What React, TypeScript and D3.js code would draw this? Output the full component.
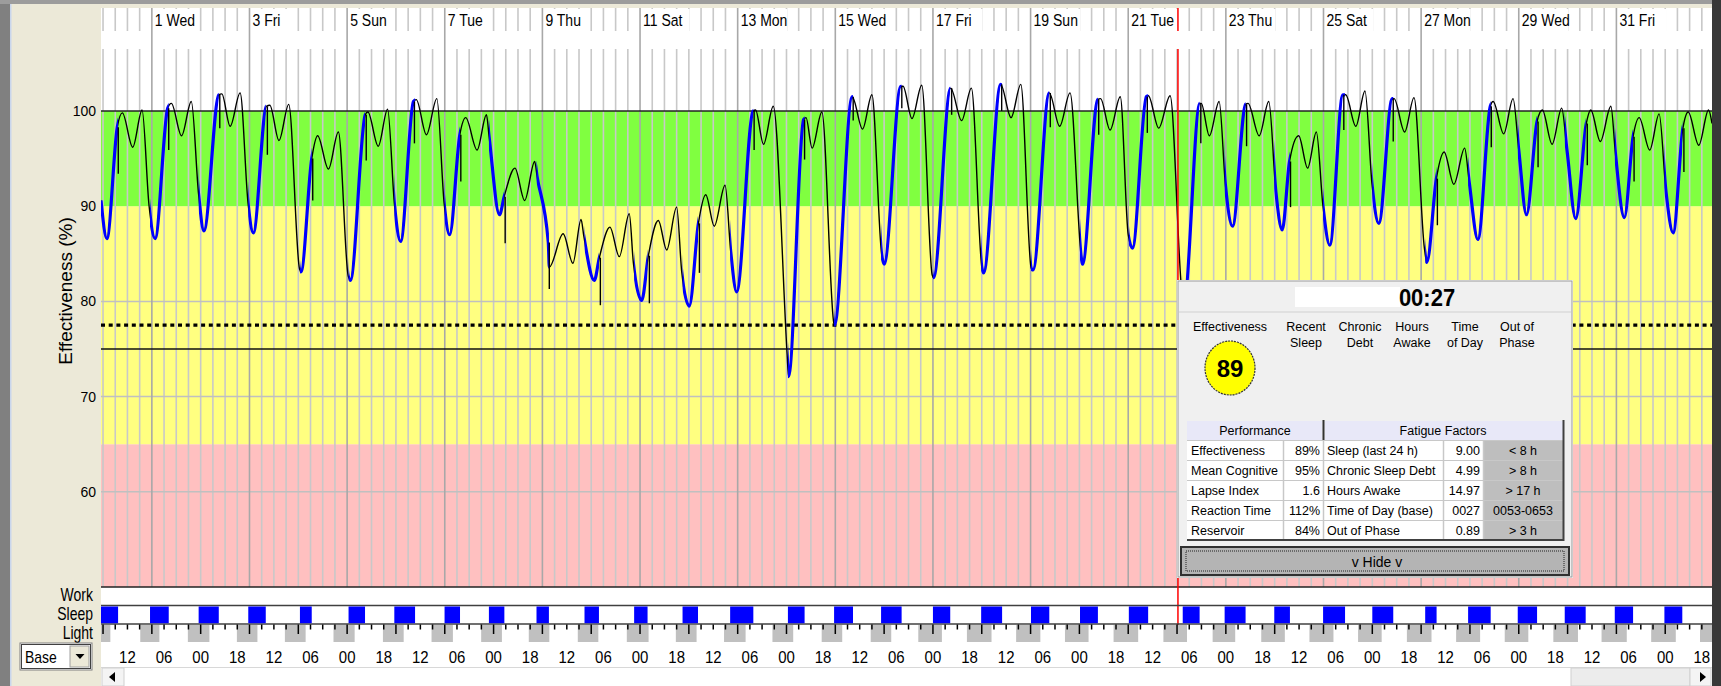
import React from "react";
import * as d3 from "d3";

// hours are counted from Tue 28 Feb 00:00
const dayLabels = ["1 Wed", "3 Fri", "5 Sun", "7 Tue", "9 Thu", "11 Sat", "13 Mon", "15 Wed",
  "17 Fri", "19 Sun", "21 Tue", "23 Thu", "25 Sat", "27 Mon", "29 Wed", "31 Fri"];
const effTicks = [100, 90, 80, 70, 60];
const zoneEdges = [50, 65, 90, 100];
const criterionDotted = 77.5;
const criterionSolid = 75;
const cursorHour = 528.45;

// effectiveness curve key points [hour, %]
const effectiveness: [number, number][] = [
  [-1, 90.6], [1.9, 86.6], [7.0, 98.3], [9.5, 99.8], [14.6, 96.2], [19.2, 100.1],
  [22.6, 90.1], [25.6, 86.6], [31.8, 100.3], [33.6, 100.8], [38.6, 97.4], [43.4, 101.0],
  [47.0, 91.2], [49.6, 87.4], [56.9, 101.7], [58.4, 101.8], [62.5, 98.4], [67.4, 101.9],
  [71.3, 90.3], [73.9, 87.2], [80.3, 100.5], [82.0, 100.6], [86.5, 96.9], [91.3, 100.7],
  [96.6, 83.4], [97.3, 83.1], [102.6, 95.0], [105.5, 97.4], [110.8, 93.9], [115.7, 97.8],
  [120.5, 82.7], [121.6, 82.2], [128.9, 99.6], [130.2, 99.9], [135.3, 96.3], [139.9, 100.2],
  [143.3, 90.1], [146.3, 86.3], [152.6, 101.0], [154.0, 101.2], [159.0, 97.5], [164.1, 101.3],
  [167.7, 90.3], [170.4, 87.0], [175.4, 97.5], [178.3, 99.3], [183.9, 95.9], [188.5, 99.6],
  [189.8, 97.3], [194.9, 89.1], [197.2, 91.0], [202.5, 94.0], [207.3, 90.6], [212.2, 94.7],
  [213.4, 93.1], [218.9, 86.2], [219.4, 83.6], [226.2, 87.1], [231.0, 84.0], [235.0, 88.6],
  [236.4, 86.8], [241.5, 82.2], [244.0, 84.6], [249.2, 87.8], [253.8, 84.7], [258.7, 89.2],
  [260.7, 84.1], [264.8, 80.1], [268.1, 84.8], [273.0, 88.5], [277.1, 85.4], [282.0, 89.9],
  [284.5, 83.1], [288.2, 79.5], [292.7, 88.2], [296.3, 91.2], [300.5, 87.9], [305.8, 92.2],
  [308.6, 85.2], [311.5, 81.0], [319.6, 100.0], [320.8, 100.1], [324.7, 96.5], [329.5, 100.5],
  [336.3, 74.5], [337.0, 72.1], [344.4, 99.1], [345.6, 99.3], [348.6, 96.1], [353.4, 99.9],
  [359.3, 77.7], [359.6, 77.5], [368.3, 101.5], [373.4, 98.1], [378.0, 101.7],
  [382.8, 84.9], [384.0, 83.9], [392.2, 102.6], [393.3, 102.6], [397.7, 99.2], [402.5, 102.7],
  [407.6, 82.8], [408.3, 82.5], [416.7, 102.4], [422.1, 99.0], [426.9, 102.4],
  [432.1, 83.5], [432.9, 83.0], [441.3, 102.8], [446.4, 99.3], [451.2, 102.8],
  [456.3, 83.5], [457.2, 83.3], [465.2, 101.9], [470.3, 98.4], [475.4, 101.9],
  [481.0, 84.5], [481.5, 83.9], [489.0, 101.2], [490.4, 101.3], [495.1, 98.0], [500.1, 101.5],
  [504.0, 87.0], [506.1, 85.6], [512.9, 101.5], [513.9, 101.6], [519.0, 98.2], [524.6, 101.6],
  [530.6, 80.6], [531.4, 80.0], [539.2, 100.8], [539.9, 100.8], [543.9, 97.4], [548.7, 101.0],
  [551.8, 92.2], [555.3, 87.9], [561.7, 100.7], [562.9, 100.8], [568.4, 97.4], [573.1, 101.0],
  [576.6, 91.5], [579.7, 87.5], [583.3, 94.7], [587.8, 97.4], [592.2, 94.0], [596.5, 97.8],
  [599.7, 90.1], [603.1, 85.9], [609.5, 101.7], [610.9, 101.7], [615.9, 98.4], [620.4, 102.1],
  [623.9, 92.2], [627.2, 88.2], [633.8, 101.3], [634.7, 101.3], [639.9, 97.8], [644.5, 101.4],
  [649.6, 85.6], [650.8, 84.1], [655.5, 92.9], [659.3, 95.7], [664.1, 92.3], [669.4, 96.1],
  [671.6, 92.6], [675.9, 86.5], [682.0, 100.5], [683.4, 101.0], [688.6, 97.6], [693.2, 101.3],
  [696.0, 95.9], [699.8, 89.1], [705.0, 98.9], [707.6, 100.1], [712.4, 96.5], [717.1, 100.3],
  [719.7, 95.9], [724.0, 88.7], [729.2, 98.7], [731.4, 100.1], [736.1, 96.8], [741.3, 100.5],
  [743.5, 95.6], [747.9, 88.8], [752.2, 97.3], [755.2, 99.3], [760.4, 95.9], [765.0, 99.7],
  [768.4, 91.5], [771.9, 87.2], [776.7, 98.2], [779.3, 99.9], [784.5, 96.4], [789.3, 100.1],
  [791, 98.7],
];

// sleep inertia dips at waking [hour, lowest %]
const wakeDips: [number, number][] = [
  [7.0, 93.4], [31.8, 95.9], [56.9, 98.2], [80.3, 95.4], [102.6, 90.6], [128.9, 94.8],
  [152.6, 96.6], [175.4, 92.6], [197.2, 86.1], [218.9, 81.3], [244.0, 79.6], [268.1, 79.8],
  [292.7, 83.0], [319.6, 95.9], [344.4, 94.9], [368.3, 99.0], [392.2, 100.3], [416.7, 99.6],
  [441.3, 100.0], [465.2, 98.3], [489.0, 97.5], [512.9, 97.7], [539.2, 96.6], [561.7, 96.3],
  [583.3, 89.9], [609.5, 98.0], [633.8, 96.8], [655.5, 88.0], [682.0, 96.2], [705.0, 94.1],
  [729.2, 94.3], [752.2, 92.6], [776.7, 93.6],
];

// sleep periods [start, end] in hours
const sleepBlocks: [number, number][] = [
  [-1, 7.4], [23.1, 32.3], [47.0, 56.9], [71.4, 80.0], [96.8, 102.6], [120.7, 128.8],
  [143.2, 153.4], [167.9, 175.5], [189.7, 197.3], [213.1, 219.2], [236.7, 243.8],
  [261.1, 267.7], [284.9, 292.5], [308.3, 319.7], [336.7, 344.9], [359.4, 368.7],
  [382.5, 392.6], [408.0, 416.5], [431.7, 442.0], [456.2, 465.2], [480.3, 489.1],
  [504.3, 513.8], [530.8, 539.1], [551.4, 561.7], [575.8, 583.5], [599.8, 610.6],
  [624.0, 634.3], [650.0, 655.6], [671.1, 682.2], [695.5, 705.0], [718.6, 728.9],
  [743.2, 752.2], [767.6, 776.4],
];

// darkness periods [start, end] in hours
const darkBlocks: [number, number][] = [
  [-1, 3.6], [18.3, 27.7], [41.7, 52.3], [65.8, 75.9], [89.4, 99.6], [113.3, 123.7],
  [137.6, 147.8], [161.5, 172.0], [185.9, 196.1], [209.3, 219.4], [233.4, 243.5],
  [257.5, 268.2], [281.6, 291.8], [305.3, 315.9], [329.1, 339.3], [353.3, 363.4],
  [377.4, 387.5], [400.8, 412.4], [424.7, 436.8], [448.9, 460.8], [472.9, 484.5],
  [496.8, 508.9], [521.3, 532.9], [545.5, 556.6], [569.4, 581.0], [593.1, 604.9],
  [617.0, 628.6], [641.0, 653.1], [665.2, 677.0], [689.1, 700.7], [713.0, 725.1],
  [736.7, 749.1], [761.1, 773.2], [785.1, 791],
];

const factorHeads = [["Recent", "Sleep"], ["Chronic", "Debt"], ["Hours", "Awake"], ["Time", "of Day"], ["Out of", "Phase"]];
const perfRows = [["Effectiveness", "89%"], ["Mean Cognitive", "95%"], ["Lapse Index", "1.6"], ["Reaction Time", "112%"], ["Reservoir", "84%"]];
const fatigueRows = [
  ["Sleep (last 24 h)", "9.00", "< 8 h"], ["Chronic Sleep Debt", "4.99", "> 8 h"],
  ["Hours Awake", "14.97", "> 17 h"], ["Time of Day (base)", "0027", "0053-0653"],
  ["Out of Phase", "0.89", "> 3 h"],
];

const FONT = "'Liberation Sans', Arial, sans-serif";
const PL = 101, PR = 1712, PT = 8, PB = 587;

function T({ x, y, children, size = 14, anchor = "start", sy = 1, weight = "normal", fill = "#000" }: any) {
  return (
    <text transform={`translate(${x},${y}) scale(1,${sy})`} fontSize={size} textAnchor={anchor}
      fontWeight={weight} fill={fill} fontFamily={FONT}>{children}</text>
  );
}

export default function App() {
  const x = d3.scaleLinear().domain([-1, 791]).range([PL, PR]);
  const y = d3.scaleLinear().domain([50, 100]).range([PB, 111]);

  const line = d3.line<[number, number]>()
    .x((d) => x(d[0]))
    .y((d) => y(d[1]))
    .curve(d3.curveMonotoneX);
  const path = line(effectiveness) || "";

  const gridHours = d3.range(0, 791, 6);
  const timeTicks = d3.range(12, 791, 18);
  const valueAt = (h: number) => (effectiveness.find((p) => p[0] === h) || [h, 90])[1];

  const zoneColors = ["#ffc0c0", "#ffff80", "#80ff40"];
  const cx = x(cursorHour);

  // panel geometry
  const px = 1178, py = 281;
  const tx = [1187, 1283, 1323, 1443, 1483, 1563];

  return (
    <svg width={1721} height={686} style={{ position: "absolute", left: 0, top: 0, display: "block" }}
      fontFamily={FONT}>
      <rect x={0} y={0} width={1721} height={686} fill="#ece9d8" />
      <rect x={0} y={0} width={10} height={686} fill="#808080" />
      <rect x={10} y={0} width={1.5} height={686} fill="#c9d6ec" />
      <rect x={0} y={0} width={1721} height={4} fill="#9c9c9c" />
      <rect x={PR} y={0} width={9} height={686} fill="#383838" />

      {/* plot background and zones */}
      <rect x={PL} y={PT} width={PR - PL} height={667 - PT} fill="#fff" />
      {zoneColors.map((c, i) => (
        <rect key={c} x={PL} y={y(zoneEdges[i + 1])} width={PR - PL}
          height={y(zoneEdges[i]) - y(zoneEdges[i + 1])} fill={c} />
      ))}

      {/* minor grid */}
      {gridHours.filter((h) => h % 48 !== 24).map((h) => (
        <line key={h} x1={x(h)} x2={x(h)} y1={PT} y2={PB} stroke="#c8c8c8" strokeWidth={1.6} />
      ))}
      {[60, 70, 80].map((v) => (
        <line key={v} x1={PL} x2={PR} y1={y(v)} y2={y(v)} stroke="#c0c0c0" strokeWidth={1.5} />
      ))}
      <rect x={PL} y={31} width={PR - PL} height={18} fill="#fff" />
      {dayLabels.map((d) => {
        const h = 24 * parseInt(d);
        return <rect key={d} x={x(h) + 1} y={PT + 1} width={d.length * 7.6 + 3} height={22} fill="#fff" />;
      })}
      {/* major grid */}
      {gridHours.filter((h) => h % 48 === 24).map((h) => (
        <line key={h} x1={x(h)} x2={x(h)} y1={PT} y2={PB} stroke="#a8a8a8" strokeWidth={1.6} />
      ))}
      {dayLabels.map((d) => (
        <T key={d} x={x(24 * parseInt(d)) + 3} y={26} sy={1.12}>{d}</T>
      ))}

      <line x1={PL} x2={PR} y1={y(100)} y2={y(100)} stroke="#222" strokeWidth={1.6} />
      <line x1={PL} x2={PR} y1={y(50)} y2={y(50)} stroke="#222" strokeWidth={1.6} />
      <line x1={PL} x2={PR} y1={y(criterionDotted)} y2={y(criterionDotted)} stroke="#000"
        strokeWidth={3.2} strokeDasharray="4 3.7" />
      <line x1={PL} x2={PR} y1={y(criterionSolid)} y2={y(criterionSolid)} stroke="#111" strokeWidth={1.6} />

      {/* effectiveness curve */}
      <defs>
        <clipPath id="sleepClip">
          {sleepBlocks.map((b) => (
            <rect key={b[0]} x={x(b[0])} y={0} width={x(b[1]) - x(b[0])} height={PB} />
          ))}
        </clipPath>
        <clipPath id="plotClip">
          <rect x={PL} y={PT} width={PR - PL} height={PB - PT} />
        </clipPath>
      </defs>
      <g clipPath="url(#plotClip)">
        <path d={path} fill="none" stroke="#000" strokeWidth={1.4} />
        <path d={path} fill="none" stroke="#0000ff" strokeWidth={3.2} clipPath="url(#sleepClip)" />
        {wakeDips.map((w) => (
          <line key={w[0]} x1={x(w[0]) + 1} x2={x(w[0]) + 1} y1={y(valueAt(w[0]))} y2={y(w[1])}
            stroke="#000" strokeWidth={1.4} />
        ))}
      </g>

      {/* current time cursor */}
      <line x1={cx} x2={cx} y1={PT} y2={31} stroke="#ff0000" strokeWidth={1.5} />
      <line x1={cx} x2={cx} y1={49} y2={625} stroke="#ff0000" strokeWidth={1.5} />

      {/* y axis */}
      {effTicks.map((v) => (
        <T key={v} x={96} y={y(v) + 5} anchor="end">{v}</T>
      ))}
      <text transform="translate(72,291) rotate(-90)" fontSize={19} textAnchor="middle" fontFamily={FONT}>
        Effectiveness (%)
      </text>

      {/* work / sleep / light rows */}
      <T x={93} y={601} anchor="end" sy={1.25}>Work</T>
      <T x={93} y={620} anchor="end" sy={1.25}>Sleep</T>
      <T x={93} y={639} anchor="end" sy={1.25}>Light</T>
      <line x1={PL} x2={PR} y1={605.5} y2={605.5} stroke="#404040" strokeWidth={1.6} />
      <line x1={PL} x2={PR} y1={624} y2={624} stroke="#404040" strokeWidth={1.6} />
      {sleepBlocks.map((b) => (
        <rect key={b[0]} x={Math.max(PL, x(b[0]))} y={606.5} width={x(b[1]) - Math.max(PL, x(b[0]))}
          height={16.7} fill="#0000ff" />
      ))}
      {darkBlocks.map((b) => (
        <rect key={b[0]} x={Math.max(PL, x(b[0]))} y={625} width={Math.min(PR, x(b[1])) - Math.max(PL, x(b[0]))}
          height={17} fill="#c0c0c0" />
      ))}
      {gridHours.map((h) => (
        <line key={h} x1={x(h)} x2={x(h)} y1={624.5} y2={h % 24 === 0 ? 634 : 629.5} stroke="#000" strokeWidth={1.5} />
      ))}
      {timeTicks.map((h) => (
        <T key={h} x={x(h)} y={663} anchor="middle" size={15} sy={1.15}>{String(h % 24).padStart(2, "0")}</T>
      ))}

      {/* scrollbar */}
      <rect x={PL} y={667} width={PR - PL} height={19} fill="#fff" />
      <line x1={PL} x2={PR} y1={667.5} y2={667.5} stroke="#d8d8d8" />
      <rect x={PL + 1} y={668} width={22} height={18} fill="#f4f4f4" stroke="#d0d0d0" />
      <path d={`M${PL + 8},677 L${PL + 14},672 L${PL + 14},682 Z`} fill="#000" />
      <rect x={1571} y={668} width={119} height={18} fill="#ececec" stroke="#d0d0d0" />
      <rect x={1690} y={668} width={21} height={18} fill="#f4f4f4" stroke="#d0d0d0" />
      <path d="M1706,677 L1700,672 L1700,682 Z" fill="#000" />

      {/* Base dropdown */}
      <rect x={20} y={643} width={72} height={27} fill="#fff" stroke="#808080" />
      <rect x={21.5} y={644.5} width={69} height={24} fill="#fff" stroke="#404040" />
      <rect x={70} y={646} width={19} height={21} fill="#ece9d8" stroke="#a0a0a0" />
      <path d="M75.5,654 L84.5,654 L80,659 Z" fill="#000" />
      <T x={25} y={663} sy={1.15}>Base</T>

      {/* info panel */}
      <rect x={px - 1} y={py - 1} width={396} height={298} fill="#fff" />
      <rect x={px} y={py} width={394} height={296} fill="#f0f0f0" stroke="#9a9a9a" />
      <rect x={1295} y={287} width={105} height={20} fill="#fff" />
      <T x={1427} y={306} anchor="middle" size={22} weight="bold" sy={1.05}>00:27</T>
      <line x1={px + 1} x2={px + 393} y1={312} y2={312} stroke="#cfcfcf" strokeWidth={1.2} />
      <T x={1193} y={331} size={12.5}>Effectiveness</T>
      {factorHeads.map((f, i) => {
        const fx = [1306, 1360, 1412, 1465, 1517][i];
        return (
          <g key={f[0]}>
            <T x={fx} y={331} size={12.5} anchor="middle">{f[0]}</T>
            <T x={fx} y={347} size={12.5} anchor="middle">{f[1]}</T>
          </g>
        );
      })}
      <ellipse cx={1230} cy={368} rx={25} ry={27} fill="#ffff00" stroke="#333" strokeWidth={1.2} strokeDasharray="2 1" />
      <T x={1230} y={377} anchor="middle" size={24} weight="bold">89</T>

      {/* table */}
      <rect x={tx[0]} y={421} width={tx[2] - tx[0] - 1} height={19} fill="#e8e8f8" />
      <rect x={tx[2] + 2} y={421} width={tx[5] - tx[2] - 2} height={19} fill="#e8e8f8" />
      <line x1={tx[2] + 0.5} x2={tx[2] + 0.5} y1={420} y2={440} stroke="#333" strokeWidth={2} />
      <T x={(tx[0] + tx[2]) / 2} y={435} size={12.5} anchor="middle">Performance</T>
      <T x={(tx[2] + tx[5]) / 2} y={435} size={12.5} anchor="middle">Fatigue Factors</T>
      {perfRows.map((r, i) => {
        const ry = 440 + i * 20;
        const f = fatigueRows[i];
        return (
          <g key={r[0]}>
            <rect x={tx[0]} y={ry} width={tx[4] - tx[0]} height={20} fill="#fff" />
            <rect x={tx[4]} y={ry} width={tx[5] - tx[4]} height={20} fill="#bebebe" />
            <line x1={tx[0]} x2={tx[5]} y1={ry + 0.5} y2={ry + 0.5} stroke="#c8c8c8" />
            {[tx[1], tx[2], tx[3], tx[4]].map((cxx) => (
              <line key={cxx} x1={cxx + 0.5} x2={cxx + 0.5} y1={ry} y2={ry + 20} stroke="#c8c8c8" strokeWidth={1.5} />
            ))}
            <T x={tx[0] + 4} y={ry + 15} size={12.5}>{r[0]}</T>
            <T x={tx[2] - 3} y={ry + 15} size={12.5} anchor="end">{r[1]}</T>
            <T x={tx[2] + 4} y={ry + 15} size={12.5}>{f[0]}</T>
            <T x={tx[4] - 3} y={ry + 15} size={12.5} anchor="end">{f[1]}</T>
            <T x={(tx[4] + tx[5]) / 2} y={ry + 15} size={12.5} anchor="middle">{f[2]}</T>
          </g>
        );
      })}
      <line x1={tx[0]} x2={tx[5] + 1} y1={540} y2={540} stroke="#404040" strokeWidth={2} />
      <line x1={tx[5] + 0.5} x2={tx[5] + 0.5} y1={420} y2={541} stroke="#404040" strokeWidth={2} />

      {/* hide button */}
      <rect x={1181} y={547} width={388} height={28} fill="#b4b4b4" stroke="#303030" strokeWidth={2} />
      <rect x={1186} y={551} width={378} height={20} fill="none" stroke="#222" strokeDasharray="1 1" />
      <T x={1377} y={567} anchor="middle" size={14} sy={1.1}>v Hide v</T>
    </svg>
  );
}
